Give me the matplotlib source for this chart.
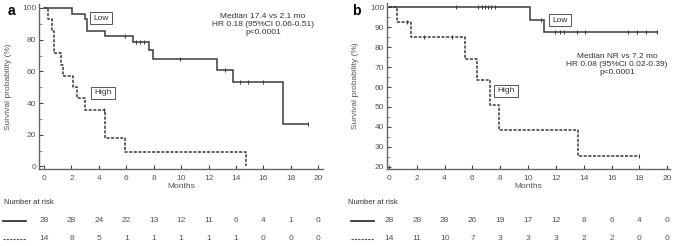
import matplotlib
matplotlib.use("Agg")
import matplotlib.pyplot as plt
import matplotlib.transforms as mtrans
from matplotlib.ticker import MultipleLocator

plt.rcParams['font.family'] = ['Liberation Sans', 'DejaVu Sans']

# ---- data ----
# Panel a
a_low_t = [0, 2.02, 2.99, 3.16, 4.45, 6.51, 7.68, 7.97, 12.6, 13.8, 17.4, 19.27]
a_low_s = [100, 96.4, 92.9, 85.7, 82.1, 78.3, 73.3, 67.9, 61.0, 53.4, 26.7, 26.7]
a_low_cens_t = [5.9, 6.7, 7.0, 7.3, 9.9, 13.2, 14.3, 14.9, 16.0, 19.27]
a_low_cens_s = [82.1, 78.3, 78.3, 78.3, 67.9, 61.0, 53.4, 53.4, 53.4, 26.7]
a_high_t = [0, 0.32, 0.56, 0.75, 1.24, 1.41, 2.14, 2.43, 2.99, 4.45, 5.9, 14.7]
a_high_s = [100, 92.9, 85.7, 71.4, 64.3, 57.1, 50.0, 42.9, 35.7, 17.9, 8.9, 0]
a_high_cens_t = [4.4]
a_high_cens_s = [35.7]

# Panel b
b_low_t = [0, 10.14, 11.17, 19.3]
b_low_s = [100, 93.8, 87.5, 87.5]
b_low_cens_t = [4.8, 6.4, 6.7, 6.9, 7.1, 7.3, 7.6, 10.9, 11.9, 12.3, 12.6, 13.5, 14.1, 17.2, 17.8, 18.5, 19.3]
b_low_cens_s = [100, 100, 100, 100, 100, 100, 100, 93.8, 87.5, 87.5, 87.5, 87.5, 87.5, 87.5, 87.5, 87.5, 87.5]
b_high_t = [0, 0.55, 1.62, 5.44, 6.35, 7.23, 7.88, 13.6, 17.97]
b_high_s = [100, 92.9, 85.0, 74.3, 63.7, 51.0, 38.2, 25.5, 25.5]
b_high_cens_t = [1.3, 2.5, 4.5, 17.97]
b_high_cens_s = [92.9, 85.0, 85.0, 25.5]

risk_times = [0, 2, 4, 6, 8, 10, 12, 14, 16, 18, 20]
a_risk_low = [28, 28, 24, 22, 13, 12, 11, 6, 4, 1, 0]
a_risk_high = [14, 8, 5, 1, 1, 1, 1, 1, 0, 0, 0]
b_risk_low = [28, 28, 28, 26, 19, 17, 12, 8, 6, 4, 0]
b_risk_high = [14, 11, 10, 7, 3, 3, 3, 2, 2, 0, 0]

a_text = "Median 17.4 vs 2.1 mo\nHR 0.18 (95%CI 0.06-0.51)\np<0.0001"
b_text = "Median NR vs 7.2 mo\nHR 0.08 (95%Ci 0.02-0.39)\np<0.0001"

W, H = 676, 246
fig = plt.figure(figsize=(W / 100, H / 100), dpi=100)

LC = '#3a3a3a'
TC = '#555555'
FS = 6


def px_axes(l, t, r, b):
    return fig.add_axes([l / W, 1 - b / H, (r - l) / W, (b - t) / H])


def style(ax, yticks, ylim, xlim, yminor):
    for s in ['top', 'right']:
        ax.spines[s].set_visible(False)
    for s in ['left', 'bottom']:
        ax.spines[s].set_color('#666666')
        ax.spines[s].set_linewidth(1.0)
    ax.set_xlim(*xlim)
    ax.set_ylim(*ylim)
    ax.set_xticks(risk_times)
    ax.set_yticks(yticks)
    ax.yaxis.set_minor_locator(MultipleLocator(yminor))
    ax.tick_params(axis='x', direction='in', length=3, width=0.8, color='#444444',
                   labelsize=FS, labelcolor=TC, pad=4)
    ax.tick_params(axis='y', which='major', direction='in', length=3, width=0.8, color='#444444',
                   labelsize=FS, labelcolor=TC, pad=2)
    ax.tick_params(axis='y', which='minor', direction='in', length=1.8, width=0.6, color='#777777')
    ax.set_xlabel('Months', fontsize=FS, color=TC, labelpad=1)
    ax.set_ylabel('Survival probability (%)', fontsize=FS, color=TC, labelpad=3)
    ax.patch.set_visible(False)


def km(ax, t, s, ct, cs, ls):
    if ls == 'solid':
        ax.step(t, s, where='post', color=LC, lw=1.1, solid_joinstyle='miter')
    else:
        ax.step(t, s, where='post', color=LC, lw=1.1, linestyle=(0, (2, 1)))
    ax.plot(ct, cs, linestyle='none', marker='|', markersize=3, color=LC, mew=0.7)


def risk_table(ax, low, high, sym_x0, sym_x1, title_x):
    tr = mtrans.blended_transform_factory(ax.transData, fig.transFigure)
    fig.text(title_x / W, 1 - 202 / H, 'Number at risk', fontsize=5.5, color='#333333',
             va='center', ha='left')
    for yy, vals, ls in [(221, low, '-'), (239, high, (0, (2, 1)))]:
        fig.add_artist(plt.Line2D([sym_x0 / W, sym_x1 / W], [1 - yy / H, 1 - yy / H],
                                  transform=fig.transFigure, color='#222222' if ls == '-' else '#555555',
                                  lw=1.2 if ls == '-' else 0.8, linestyle=ls))
        for tt, v in zip(risk_times, vals):
            ax.text(tt, 1 - yy / H, str(v), transform=tr, ha='center', va='center',
                    fontsize=FS, color=TC, clip_on=False)


def box(x, y, txt):
    fig.text(x, y, txt, fontsize=FS, color='#333333',
             ha='center', va='center',
             bbox=dict(boxstyle='square,pad=0.35', fc='white', ec='#555555', lw=0.7))


# Panel a
ax1 = px_axes(39, 4, 323, 169)
style(ax1, [0, 20, 40, 60, 80, 100], (-1.6, 102.5), (-0.37, 20.35), 10)
km(ax1, a_low_t, a_low_s, a_low_cens_t, a_low_cens_s, 'solid')
km(ax1, a_high_t, a_high_s, a_high_cens_t, a_high_cens_s, 'dashed')
ax1.yaxis.set_label_coords(-0.095, 0.5)
box(101 / W, 1 - 18 / H, 'Low')
box(103 / W, 1 - 93 / H, 'High')
fig.text(263 / W, 1 - 24 / H, a_text, ha='center', va='center', fontsize=FS,
         color='#333333', linespacing=1.2)
fig.text(8 / W, 1 - 11 / H, 'a', fontsize=10, fontweight='bold', va='center', ha='left')
risk_table(ax1, a_risk_low, a_risk_high, 3, 26, 4)

# Panel b
ax2 = px_axes(387, 3, 670, 169)
style(ax2, [20, 30, 40, 50, 60, 70, 80, 90, 100], (18.85, 102.2), (-0.14, 20.2), 5)
km(ax2, b_low_t, b_low_s, b_low_cens_t, b_low_cens_s, 'solid')
km(ax2, b_high_t, b_high_s, b_high_cens_t, b_high_cens_s, 'dashed')
ax2.yaxis.set_label_coords(-0.1, 0.5)
box(560 / W, 1 - 20 / H, 'Low')
box(506 / W, 1 - 91 / H, 'High')
fig.text(617 / W, 1 - 64 / H, b_text, ha='center', va='center', fontsize=FS,
         color='#333333', linespacing=1.2)
fig.text(352 / W, 1 - 11 / H, 'b', fontsize=10, fontweight='bold', va='center', ha='left')
risk_table(ax2, b_risk_low, b_risk_high, 351, 374, 348)

fig.savefig('out.png', dpi=100)
